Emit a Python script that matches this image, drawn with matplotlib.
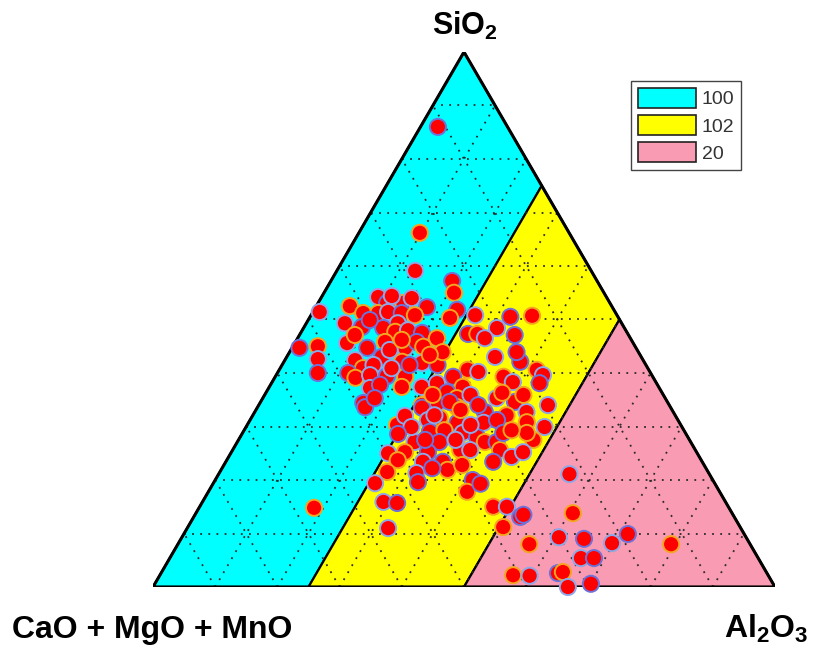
import matplotlib
matplotlib.use('Agg')
import matplotlib.pyplot as plt
from matplotlib.patches import Polygon, Patch
import numpy as np

plt.rcParams['font.family'] = ['Liberation Sans', 'DejaVu Sans']
plt.rcParams['mathtext.fontset'] = 'custom'
plt.rcParams['mathtext.rm'] = 'Liberation Sans:bold'
plt.rcParams['mathtext.it'] = 'Liberation Sans:bold'
plt.rcParams['mathtext.bf'] = 'Liberation Sans:bold'

# ---- data (weight %) ----
sio2 = [86.0, 66.2, 59.1, 57.2, 55.0, 51.4, 44.7, 45.0, 42.6, 40.0,
        52.5, 54.2, 53.1, 53.1, 54.0, 52.3, 51.2, 49.3, 48.6, 51.2,
        51.4, 51.2, 50.8, 49.3, 48.4, 47.7, 48.0, 47.5, 46.5, 45.6,
        44.7, 45.8, 44.7, 45.8, 44.9, 42.4, 43.0, 42.1, 41.9, 41.5,
        40.9, 41.5, 40.0, 39.1, 39.6, 39.4, 39.3, 37.2, 37.8, 37.4,
        37.4, 34.4, 34.0, 34.4,
        51.8, 50.3, 50.8, 50.5, 50.7, 48.4, 47.3, 47.3, 46.5, 47.1,
        43.9, 43.0, 42.1, 40.6, 40.2, 43.9, 40.6, 39.6, 38.1, 39.3,
        38.3, 39.3, 37.4, 38.1, 36.4, 35.3, 35.3, 34.6, 36.3, 34.0,
        32.7, 32.1, 32.7, 30.7, 31.6, 30.7, 31.2, 30.8, 29.9,
        33.6, 30.3, 32.0, 33.5, 33.6, 31.2, 29.0, 29.3, 28.8, 28.0,
        27.1, 27.1, 27.1, 25.2, 25.0, 25.2, 25.6, 25.6, 27.1, 25.6,
        24.3, 23.4, 23.7, 23.4, 23.4, 21.9, 21.3, 19.6, 21.5, 19.4,
        20.0, 17.8, 15.9, 15.7, 15.0, 15.0, 13.1, 11.2, 11.0,
        19.3, 27.5, 25.2, 28.8, 28.8, 32.1, 34.6, 33.1,
        21.1, 13.5, 13.8, 9.3, 9.0, 8.0, 8.2, 9.9, 8.0, 5.4,
        5.4, 2.2, 2.1, 2.6, 2.8, 0.0, 0.6, 14.8,
        54.4, 49.9, 47.1, 44.3, 41.5, 43.4, 40.9, 35.3, 35.9, 35.9,
        34.0, 29.3, 27.5, 22.2, 22.8, 29.9, 28.6, 35.9, 30.3, 27.5,
        46.2]
al2o3 = [2.8, 9.8, 12.6, 19.5, 20.9, 1.1, 1.2, 4.0, 5.2, 6.5,
         5.4, 9.1, 11.1, 13.7, 14.6, 17.9, 8.2, 6.2, 9.3, 10.6,
         12.1, 14.4, 16.7, 14.7, 12.8, 15.1, 17.0, 19.5, 22.4, 8.4,
         12.1, 14.4, 18.2, 19.5, 21.0, 11.3, 15.3, 19.0, 22.3, 25.0,
         13.3, 14.7, 11.4, 13.0, 15.1, 17.9, 20.9, 16.3, 17.6, 21.3,
         24.5, 16.6, 26.2, 28.6,
         23.0, 22.6, 26.4, 32.2, 35.6, 31.1, 27.0, 28.5, 30.1, 34.6,
         24.6, 33.5, 38.0, 30.3, 32.2, 36.5, 41.4, 42.9, 43.1, 36.7,
         38.7, 28.6, 31.1, 26.6, 29.1, 31.2, 37.6, 40.9, 38.0, 46.5,
         37.0, 40.8, 43.7, 33.6, 30.3, 37.8, 39.7, 44.7, 48.0,
         17.3, 24.1, 24.5, 26.5, 32.1, 28.6, 30.0, 32.2, 35.4, 38.1,
         39.8, 28.5, 32.5, 27.9, 25.3, 31.6, 36.6, 38.2, 41.7, 43.0,
         45.5, 43.0, 27.5, 31.7, 34.9, 36.4, 31.7, 32.8, 26.9, 26.0,
         41.4, 41.6, 29.1, 31.4, 47.2, 49.4, 52.5, 50.7, 32.3,
         43.0, 47.4, 46.9, 41.9, 45.7, 29.2, 30.4, 32.9,
         56.4, 52.8, 60.6, 60.6, 64.8, 56.5, 69.7, 71.4, 79.3, 66.1,
         68.2, 56.8, 59.5, 63.8, 64.5, 66.7, 70.1, 18.5,
         11.2, 9.9, 8.9, 15.9, 20.5, 22.8, 17.9, 18.0, 27.0, 33.1,
         35.3, 43.0, 34.9, 33.8, 38.3, 26.6, 25.1, 41.6, 35.9, 30.0,
         16.9]

# field limits on the Al2O3 axis (%) and legend labels
field_limits = [0, 25, 50, 100]
field_labels = ['100', '102', '20']
field_colors = ['#00FFFF', '#FFFF00', '#F99BB2']

H = np.sqrt(3) / 2


def tern(a, s):
    a = np.asarray(a, dtype=float) / 100.0
    s = np.asarray(s, dtype=float) / 100.0
    return a + s / 2, s * H


fig = plt.figure(figsize=(8.13, 6.5), dpi=100)
ax = fig.add_axes([153 / 813, 63 / 650, 622 / 813, 535 / 650])
ax.set_xlim(0, 1)
ax.set_ylim(0, H)
ax.axis('off')

# fields
for lo, hi, col in zip(field_limits[:-1], field_limits[1:], field_colors):
    xs, ys = tern([lo, hi, hi, lo], [0, 0, 100 - hi, 100 - lo])
    ax.add_patch(Polygon(np.column_stack([xs, ys]), closed=True,
                         facecolor=col, edgecolor='black', lw=1.6, zorder=1))

# dotted grid
for k in range(10, 100, 10):
    segs = [([0, 100 - k], [k, k]),          # constant SiO2
            ([k, k], [0, 100 - k]),          # constant Al2O3
            ([100 - k, 0], [0, 100 - k])]    # constant CaO+MgO+MnO
    for aa, ss in segs:
        xs, ys = tern(aa, ss)
        ax.plot(xs, ys, color='#2a2a2a', lw=1.3, ls=(0, (1, 3.5)), zorder=2)

# outline
xs, ys = tern([0, 100, 0, 0], [0, 0, 100, 0])
ax.plot(xs, ys, color='black', lw=2.2, zorder=3, solid_joinstyle='miter')

# points
px, py = tern(al2o3, sio2)
edge_cycle = ['#6f72d8', '#f4a521', '#8fa8e8']
edges = [edge_cycle[i % 3] for i in range(len(px))]
ax.scatter(px, py, s=135, facecolor='#FF0000', edgecolors=edges,
           linewidths=1.4, zorder=5, clip_on=False)

# labels
fig.text(465 / 813, 1 - 35 / 650, 'SiO$_2$', ha='center', va='baseline',
         fontsize=22, fontweight='bold')
fig.text(12 / 813, 1 - 638 / 650, 'CaO + MgO + MnO', ha='left', va='baseline',
         fontsize=23, fontweight='bold')
fig.text(808 / 813, 1 - 638 / 650, 'Al$_2$O$_3$', ha='right', va='baseline',
         fontsize=23, fontweight='bold')

handles = [Patch(facecolor=c, edgecolor='#222222', lw=1.2) for c in field_colors]
leg = fig.legend(handles, field_labels, loc='upper left',
                 bbox_to_anchor=(631 / 813, 1 - 81 / 650), borderaxespad=0,
                 fontsize=14, handlelength=3.0, handleheight=1.2,
                 handletextpad=0.3, labelspacing=0.35, borderpad=0.35,
                 fancybox=False, framealpha=1, edgecolor='#444444')
for t in leg.get_texts():
    t.set_color('#333333')

fig.savefig('out.png', dpi=100)
